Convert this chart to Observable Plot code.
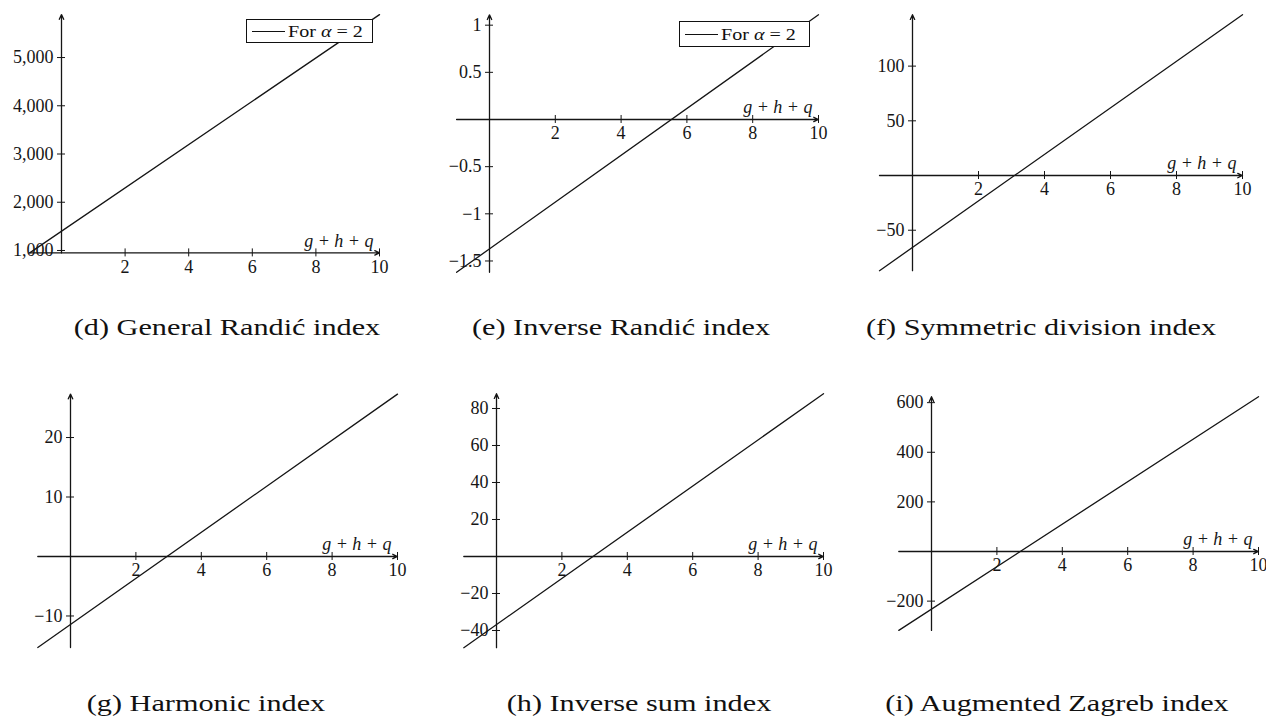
<!DOCTYPE html>
<html>
<head>
<meta charset="utf-8">
<script src="https://cdn.jsdelivr.net/npm/d3@7"></script>
<script src="https://cdn.jsdelivr.net/npm/@observablehq/plot@0.6"></script>
<style>
  body { margin: 0; background: #fff; }
  #page { position: relative; width: 1266px; height: 718px; overflow: hidden;
          font-family: "Liberation Serif", "Times New Roman", serif; color: #111; }
  .panel { position: absolute; }
  .panel svg { overflow: visible; }
  .caption { position: absolute; white-space: nowrap; font-size: 24px; line-height: 1;
             transform: translate(-50%, -50%) scaleX(1.26); }
  .legend { position: absolute; box-sizing: border-box; border: 1.2px solid #111; background: #fff;
            font-size: 17px; line-height: 1; display: flex; align-items: center; padding-left: 5px; }
  .legend .swatch { display: inline-block; width: 33px; border-top: 1.3px solid #111; margin-right: 3px; }
  .legend .txt { display: inline-block; transform-origin: left center; transform: scaleX(1.18); white-space: nowrap; }
</style>
</head>
<body>
<div id="page"></div>
<script>
// g + h + q at the two ends of every plotted segment
const xEnds = [-1, 10];
const xTicks = [2, 4, 6, 8, 10];

// index values at g + h + q = -1 and g + h + q = 10
const generalRandic = [950, 5890];
const inverseRandic = [-1.62, 1.11];
const symmetricDivision = [-87, 147];
const harmonic = [-15.3, 27.3];
const inverseSum = [-49.3, 88];
const augmentedZagreb = [-318, 624];

// y tick values for each panel
const yTicksGeneralRandic = [1000, 2000, 3000, 4000, 5000];
const yTicksInverseRandic = [-1.5, -1, -0.5, 0.5, 1];
const yTicksSymmetricDivision = [-50, 50, 100];
const yTicksHarmonic = [-10, 10, 20];
const yTicksInverseSum = [-40, -20, 20, 40, 60, 80];
const yTicksAugmentedZagreb = [-200, 200, 400, 600];

const captions = [
  "(d) General Randić index",
  "(e) Inverse Randić index",
  "(f) Symmetric division index",
  "(g) Harmonic index",
  "(h) Inverse sum index",
  "(i) Augmented Zagreb index"
];
const xLabel = "g + h + q";
const legendLabel = "For <i>α</i> = 2";

// layout of the 3 × 2 grid (pixels)
const layout = [
  {series: generalRandic, yTicks: yTicksGeneralRandic, left: 0, top: 0, xRange: [29.2, 379], yRange: [252.4, 14.1], cap: [227, 327], legend: [246, 19, 127, 24]},
  {series: inverseRandic, yTicks: yTicksInverseRandic, left: 420, top: 0, xRange: [36.1, 398], yRange: [271.8, 14.3], cap: [621, 327], legend: [679, 21, 131, 26]},
  {series: symmetricDivision, yTicks: yTicksSymmetricDivision, left: 840, top: 0, xRange: [39, 402], yRange: [270.2, 14.2], cap: [1041, 327]},
  {series: harmonic, yTicks: yTicksHarmonic, left: 0, top: 380, xRange: [37.3, 397], yRange: [267.0, 13.6], cap: [206, 703]},
  {series: inverseSum, yTicks: yTicksInverseSum, left: 420, top: 380, xRange: [43.3, 403], yRange: [267.2, 13.2], cap: [639, 703]},
  {series: augmentedZagreb, yTicks: yTicksAugmentedZagreb, left: 840, top: 380, xRange: [58.3, 418], yRange: [249.9, 16.2], cap: [1057, 703]}
];

const ink = "#151515";
const serif = '"Liberation Serif", "Times New Roman", serif';
const fmt = d3.format(",");
const page = document.getElementById("page");

layout.forEach((p, k) => {
  const pts = xEnds.map((x, i) => ({x, y: p.series[i]}));
  const [y0, y1] = d3.extent(p.series);
  const [x0, x1] = d3.extent(xEnds);
  // horizontal axis sits at zero when zero is in view, otherwise at the bottom
  const axisY = y0 <= 0 && y1 >= 0 ? 0 : y0;
  const label = {fontFamily: serif, fontSize: 18, fill: ink};

  const chart = Plot.plot({
    width: 426,
    height: 290,
    x: {axis: null, domain: [x0, x1], range: p.xRange},
    y: {axis: null, domain: [y0, y1], range: p.yRange},
    style: {fontFamily: serif, fontSize: "18px", background: "transparent", color: ink},
    marks: [
      // axis lines with arrow heads
      Plot.arrow([0], {x1: x0, x2: x1, y1: axisY, y2: axisY, stroke: ink, strokeWidth: 1.3, headLength: 6, headAngle: 50}),
      Plot.arrow([0], {x1: 0, x2: 0, y1: y0, y2: y1, stroke: ink, strokeWidth: 1.3, headLength: 6, headAngle: 50}),
      // tick marks crossing the axes
      Plot.ruleX(xTicks, {x: d => d, y1: axisY, y2: axisY, insetTop: -4, insetBottom: -4, stroke: ink, strokeWidth: 1}),
      Plot.ruleY(p.yTicks, {y: d => d, x1: 0, x2: 0, insetLeft: -4, insetRight: -4, stroke: ink, strokeWidth: 1}),
      // tick labels
      Plot.text(xTicks, {x: d => d, y: axisY, text: d => fmt(d), dy: 14, ...label}),
      Plot.text(p.yTicks, {x: 0, y: d => d, text: d => fmt(d), textAnchor: "end", dx: -8, ...label}),
      // axis title
      Plot.text([xLabel], {x: x1, y: axisY, text: d => d, textAnchor: "end", dx: -6, dy: -12, fontStyle: "italic", ...label}),
      // the index as a function of g + h + q
      Plot.line(pts, {x: "x", y: "y", stroke: ink, strokeWidth: 1.3})
    ]
  });

  const holder = document.createElement("div");
  holder.className = "panel";
  holder.style.left = p.left + "px";
  holder.style.top = p.top + "px";
  holder.appendChild(chart);
  page.appendChild(holder);

  if (p.legend) {
    const [lx, ly, lw, lh] = p.legend;
    const lg = document.createElement("div");
    lg.className = "legend";
    lg.style.left = lx + "px";
    lg.style.top = ly + "px";
    lg.style.width = lw + "px";
    lg.style.height = lh + "px";
    lg.innerHTML = `<span class="swatch"></span><span class="txt">${legendLabel}</span>`;
    page.appendChild(lg);
  }

  const cap = document.createElement("div");
  cap.className = "caption";
  cap.style.left = p.cap[0] + "px";
  cap.style.top = p.cap[1] + "px";
  cap.textContent = captions[k];
  page.appendChild(cap);
});
</script>
</body>
</html>
